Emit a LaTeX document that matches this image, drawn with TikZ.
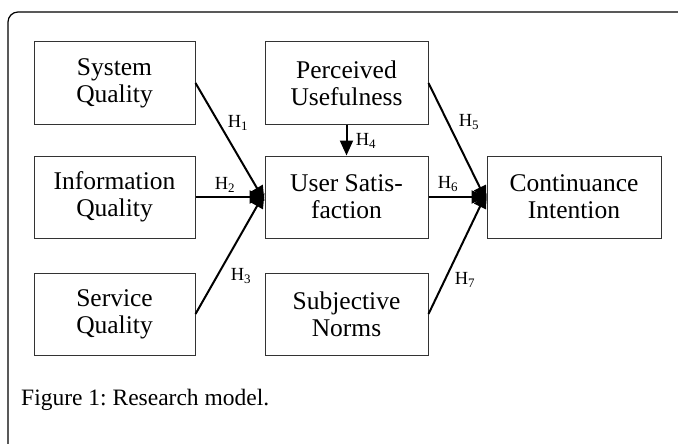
\documentclass[tikz,border=0pt]{standalone}
\usepackage{fontspec}
\setmainfont{Liberation Serif}
\usetikzlibrary{arrows.meta}
\begin{document}
\frenchspacing
\begin{tikzpicture}[x=1pt, y=-1pt]

\tikzstyle{every node} = [inner sep=0pt]
\tikzstyle{construct} = [rectangle, draw=black!80, line width=1pt, minimum width=161pt, minimum height=82pt, align=center, font=\fontsize{25.5}{27}\selectfont]
\tikzstyle{hyp} = [font=\fontsize{18.5}{20}\selectfont]
\tikzstyle{path} = [-{Triangle[length=15pt, width=13pt]}, line width=2pt]

\useasboundingbox (0,0) rectangle (678,444);

% frame
\draw[rounded corners=10pt, line width=1.2pt] (8,460) -- (8,12) -- (700,12);

\node[construct] (sys) at (114.5,83) {System\\Quality};
\node[construct] (info) at (114.5,197) {Information\\Quality};
\node[construct] (serv) at (114.5,314) {Service\\Quality};

\node[construct, minimum width=163pt] (pu) at (346.5,83) {Perceived\\Usefulness};
\node[construct, minimum width=163pt] (us) at (346.5,197) {User Satis-\\faction};
\node[construct, minimum width=163pt] (sn) at (346.5,314) {Subjective\\Norms};

\node[construct, minimum width=174pt] (ci) at (574,197) {Continuance\\Intention};

\node[hyp] (h1) at (238,123) {H\textsubscript{1}};
\node[hyp] (h2) at (225,185) {H\textsubscript{2}};
\node[hyp] (h3) at (241,276) {H\textsubscript{3}};
\node[hyp] (h4) at (366,141) {H\textsubscript{4}};
\node[hyp] (h5) at (469,122) {H\textsubscript{5}};
\node[hyp] (h6) at (448,184) {H\textsubscript{6}};
\node[hyp] (h7) at (465,280) {H\textsubscript{7}};

\draw[path] (sys.east) -- ([yshift=-4pt]us.west);
\draw[path] (info.east) -- (us.west);
\draw[path] (serv.east) -- ([yshift=4pt]us.west);
\draw[path] (pu.south) -- (us.north);
\draw[path] (pu.east) -- ([yshift=-4pt]ci.west);
\draw[path] (us.east) -- (ci.west);
\draw[path] (sn.east) -- ([yshift=4pt]ci.west);

\node[anchor=base west, font=\fontsize{23.5}{26}\selectfont] (cap) at (21,405) {Figure 1: Research model.};
\end{tikzpicture}
\end{document}
